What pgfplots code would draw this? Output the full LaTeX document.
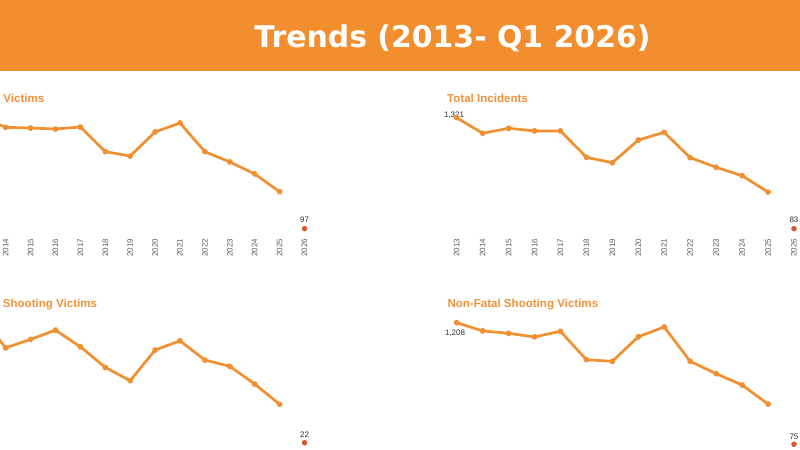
\documentclass[border=0pt]{standalone}
\usepackage{pgfplots}
\pgfplotsset{compat=1.18}
\usepackage{fontspec}
\setmainfont{Liberation Sans}
\newfontfamily\bannerfont{DejaVu Sans}
\definecolor{banner}{RGB}{242,142,46}
\definecolor{lineorange}{RGB}{240,144,48}
\definecolor{titleorange}{RGB}{240,145,58}
\definecolor{dotred}{RGB}{212,88,42}
\definecolor{tickgray}{RGB}{95,95,95}
\definecolor{lblgray}{RGB}{45,45,45}

\pgfplotsset{
  panel/.style={
    scale only axis,
    anchor=south west,
    xmin=2012.5, xmax=2026.5, ymin=0,
    axis line style={draw=none},
    major tick length=0pt,
    ytick=\empty,
    xticklabel style={rotate=90, anchor=east, inner sep=2.5bp, font=\fontsize{8}{8}\selectfont, text=tickgray},
    clip=false,
  },
  trend/.style={color=lineorange, line width=2.7bp, line join=round, line cap=round, mark=*, mark size=1.8bp, mark options={fill=lineorange, draw=none}},
  qdot/.style={color=dotred, only marks, mark=*, mark size=2.5bp, mark options={fill=dotred, draw=none}},
}
\newcommand{\lblfont}{\fontsize{8}{9}\selectfont}
\newcommand{\ttlfont}{\fontsize{11.6}{12}\selectfont\bfseries}

\begin{document}
\begin{tikzpicture}
\useasboundingbox (0,0) rectangle (800bp,-450bp);
\begin{scope}
\clip (0,0) rectangle (800bp,-450bp);
\fill[white] (0,0) rectangle (800bp,-450bp);
\fill[banner] (0,0) rectangle (800bp,-70.5bp);
\node[anchor=base, inner sep=0, text=white, font=\bannerfont\bfseries\fontsize{30}{32}\selectfont] at (452.5bp,-47.3bp) {Trends (2013- Q1 2026)};

% titles
\node[anchor=base west, inner sep=0, text=titleorange, font=\ttlfont] at (3.3bp,-102bp) {Victims};
\node[anchor=base west, inner sep=0, text=titleorange, font=\ttlfont] at (447bp,-102bp) {Total Incidents};
\node[anchor=base west, inner sep=0, text=titleorange, font=\ttlfont] at (2.7bp,-307.3bp) {Shooting Victims};
\node[anchor=base west, inner sep=0, text=titleorange, font=\ttlfont] at (447.3bp,-307.3bp) {Non-Fatal Shooting Victims};

% Top-left: Victims
\begin{axis}[panel, at={(-31.65bp,-236.1bp)}, width=348.6bp, height=129.77bp, ymax=1700,
  xtick={2014,2015,2016,2017,2018,2019,2020,2021,2022,2023,2024,2025,2026},
  xticklabels={2014,2015,2016,2017,2018,2019,2020,2021,2022,2023,2024,2025,2026}]
\addplot[trend] coordinates {(2013,1558) (2014,1425) (2015,1416) (2016,1403) (2017,1429) (2018,1106) (2019,1049) (2020,1364) (2021,1482) (2022,1106) (2023,971) (2024,814) (2025,582)};
\addplot[qdot] coordinates {(2026,97)};
\node[anchor=base, inner sep=0, yshift=6.5bp, text=lblgray, font=\lblfont] at (axis cs:2026,97) {97};
\end{axis}

% Top-right: Total Incidents
\begin{axis}[panel, at={(443.73bp,-236.1bp)}, width=363.2bp, height=134.44bp, ymax=1500,
  xtick={2013,2014,2015,2016,2017,2018,2019,2020,2021,2022,2023,2024,2025,2026},
  xticklabels={2013,2014,2015,2016,2017,2018,2019,2020,2021,2022,2023,2024,2025,2026}]
\addplot[trend] coordinates {(2013,1321) (2014,1147) (2015,1203) (2016,1173) (2017,1173) (2018,879) (2019,819) (2020,1072) (2021,1158) (2022,875) (2023,768) (2024,674) (2025,492)};
\addplot[qdot] coordinates {(2026,83)};
\node[anchor=base, inner sep=0, yshift=6.5bp, text=lblgray, font=\lblfont] at (axis cs:2026,83) {83};
\node[anchor=base, inner sep=0, xshift=-2.7bp, yshift=0.5bp, text=lblgray, font=\lblfont] at (axis cs:2013,1321) {1,321};
\end{axis}

% Bottom-left: Shooting Victims
\begin{axis}[panel, at={(-31.65bp,-450.8bp)}, width=348.6bp, height=147.6bp, ymax=400, xtick=\empty]
\addplot[trend] coordinates {(2013,363) (2014,279) (2015,302) (2016,327) (2017,282) (2018,226) (2019,190) (2020,273) (2021,298) (2022,246) (2023,229) (2024,181) (2025,126)};
\addplot[qdot] coordinates {(2026,22)};
\node[anchor=base, inner sep=0, yshift=5.5bp, text=lblgray, font=\lblfont] at (axis cs:2026,22) {22};
\end{axis}

% Bottom-right: Non-Fatal Shooting Victims
\begin{axis}[panel, at={(443.73bp,-452.3bp)}, width=363.2bp, height=150.21bp, ymax=1400, xtick=\empty]
\addplot[trend] coordinates {(2013,1208) (2014,1131) (2015,1109) (2016,1075) (2017,1128) (2018,863) (2019,848) (2020,1077) (2021,1168) (2022,848) (2023,733) (2024,627) (2025,450)};
\addplot[qdot] coordinates {(2026,75)};
\node[anchor=base, inner sep=0, yshift=5bp, text=lblgray, font=\lblfont] at (axis cs:2026,75) {75};
\node[anchor=base, inner sep=0, xshift=-1.7bp, yshift=-12.6bp, text=lblgray, font=\lblfont] at (axis cs:2013,1208) {1,208};
\end{axis}
\end{scope}
\end{tikzpicture}
\end{document}
